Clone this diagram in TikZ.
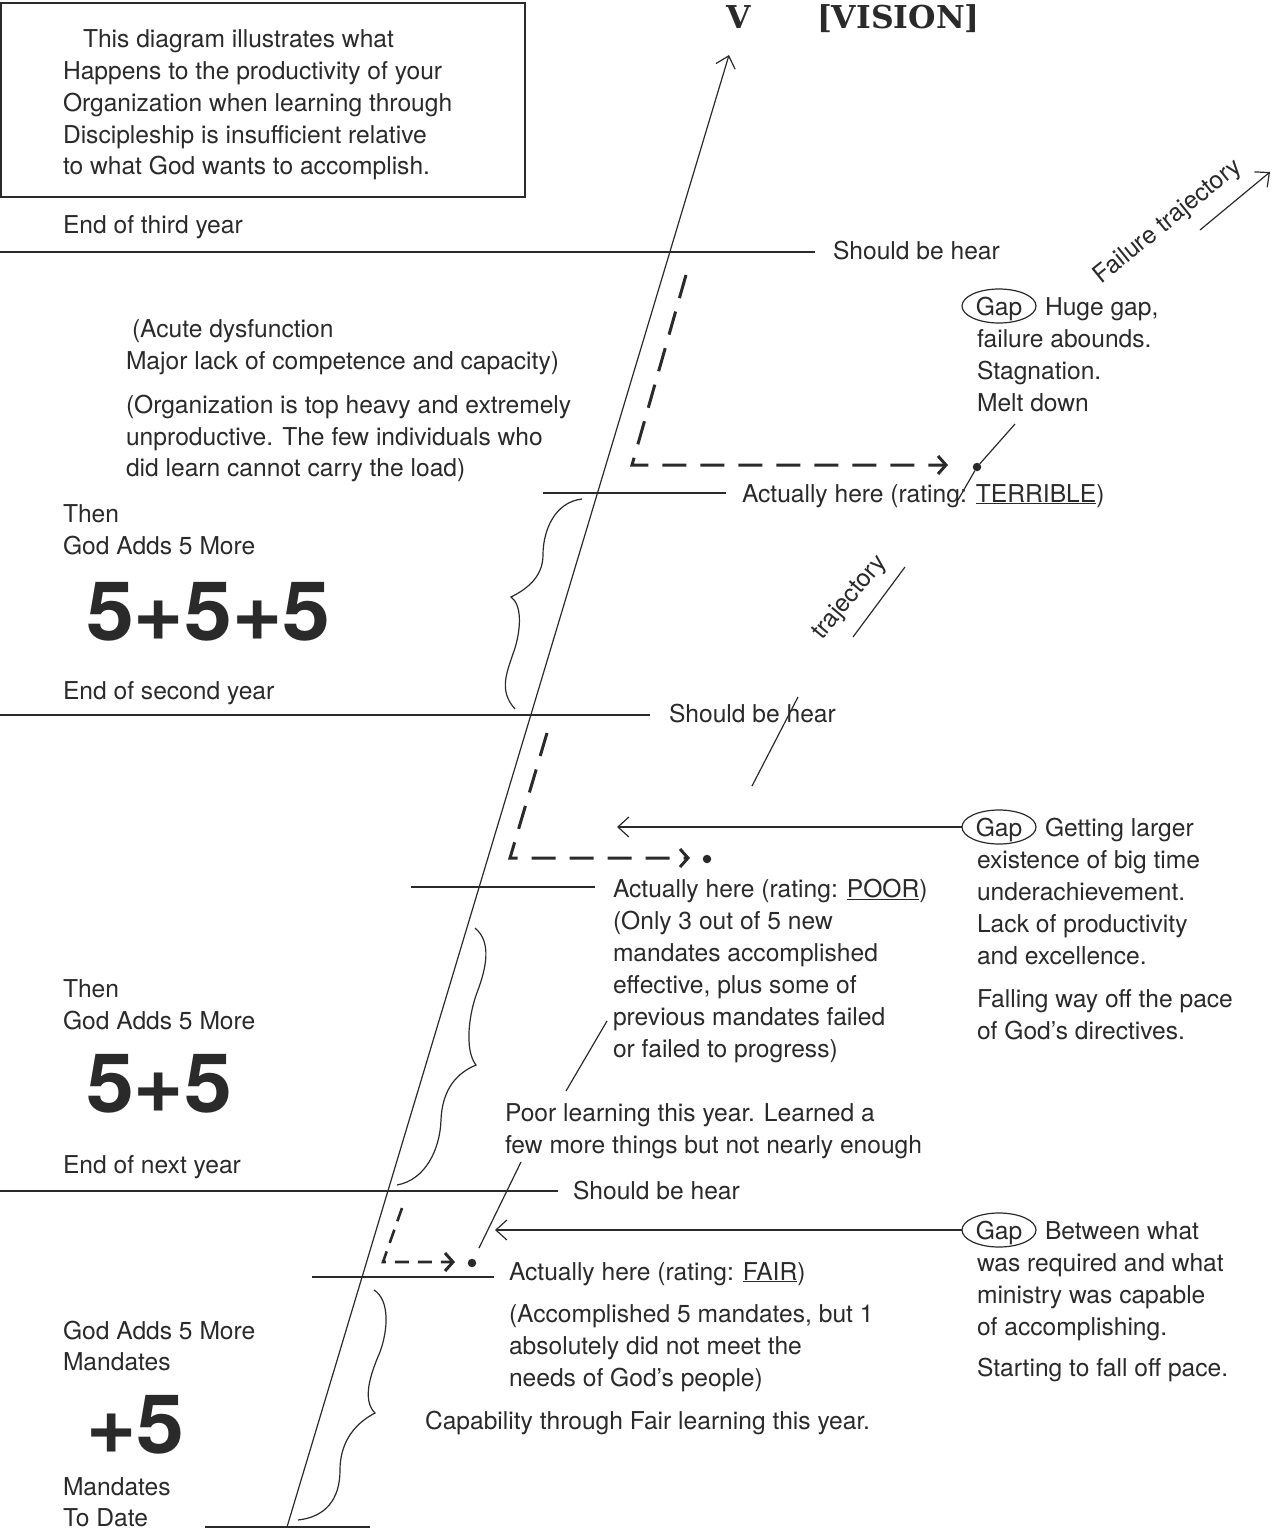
\documentclass[tikz,border=0pt]{standalone}
\usepackage{fontspec}
\setmainfont{TeX Gyre Heros}
\newfontfamily\slabfont{DejaVu Serif}[BoldFont={DejaVu Serif Bold}]
\usetikzlibrary{arrows.meta,shapes.geometric}
\definecolor{ink}{HTML}{2A2A2A}
\begin{document}
\begin{tikzpicture}[x=1pt,y=-1pt,
  every node/.style={inner sep=0pt,outer sep=0pt},
  lbl/.style={anchor=base west,font=\fontsize{24.6}{32}\selectfont,text=ink},
  big/.style={anchor=base west,xscale=1.05,font=\fontsize{82}{82}\selectfont\bfseries,text=ink},
  title/.style={anchor=base west,font=\slabfont\bfseries\fontsize{31.5}{31.5}\selectfont,text=ink},
  rule/.style={draw=ink,line width=1.4pt},
  thin/.style={draw=ink,line width=1.2pt},
  openarrow/.style={thin,-{Straight Barb[length=11pt,width=20pt,line width=1.2pt]}},
  track/.style={draw=ink,line width=3pt,dash pattern=on 24pt off 14pt,
    -{Straight Barb[length=8pt,width=18pt,line width=3pt]}},
  smalltrack/.style={track,line width=2.6pt,dash pattern=on 14pt off 9pt},
  gapring/.style={ellipse,minimum width=74pt,minimum height=36pt,
    text height=18pt,text depth=0pt,font=\fontsize{24.6}{32}\selectfont,text=ink},
  ring/.style={draw=ink,line width=1.2pt},
  spot/.style={circle,fill=ink,minimum size=8.5pt},
  brace/.style={draw=ink,line width=1.2pt}
]
\useasboundingbox (0,0) rectangle (1277,1535);

% introduction frame
\draw[rule] (1,3) rectangle (525,197);
\node[lbl] (intro1) at (83,47)  {This diagram illustrates what};
\node[lbl] (intro2) at (63,79)  {Happens to the productivity of your};
\node[lbl] (intro3) at (63,111) {Organization when learning through};
\node[lbl] (intro4) at (63,143) {Discipleship is insufficient relative};
\node[lbl] (intro5) at (63,174) {to what God wants to accomplish.};

% title above the growth axis
\node[title] (vmark)  at (726,28) {V};
\node[title] (vision) at (817,28) {[VISION]};

% growth axis
\coordinate (axbase) at (287,1527);
\coordinate (axtop)  at (729,55);
\draw[openarrow] (axbase) -- (axtop);

% year levels
\draw[rule] (0,252) -- (815,252);
\draw[rule] (543,493) -- (726,493);
\draw[rule] (0,715) -- (650,715);
\draw[rule] (411,887) -- (595,887);
\draw[rule] (0,1191) -- (558,1191);
\draw[rule] (312,1277) -- (494,1277);
\draw[rule] (205,1527) -- (370,1527);

% ---- third year ----
\node[lbl] (end3)    at (63,233)  {End of third year};
\node[lbl] (should3) at (833,259) {Should be hear};
\node[lbl] (acute1)  at (132,337) {(Acute dysfunction};
\node[lbl] (acute2)  at (126,369) {Major lack of competence and capacity)};
\node[lbl] (org1)    at (126,413) {(Organization is top heavy and extremely};
\node[lbl] (org2)    at (126,445) {unproductive. The few individuals who};
\node[lbl] (org3)    at (126,476) {did learn cannot carry the load)};
\node[lbl] (act3)    at (742,502) {Actually here (rating: \underline{TERRIBLE})};

\node[gapring] (gap3) at (999,306) {Gap};
\draw[ring] (gap3.center) ellipse [x radius=37, y radius=17];
\node[lbl] (gap3a) at (1045,315) {Huge gap,};
\node[lbl] (gap3b) at (977,347)  {failure abounds.};
\node[lbl] (gap3c) at (977,379)  {Stagnation.};
\node[lbl] (gap3d) at (977,411)  {Melt down};

\coordinate (tr3top) at (686,275);
\coordinate (tr3cor) at (632,465);
\coordinate (tr3end) at (948,465);
\draw[track] (tr3top) -- (tr3cor) -- (tr3end);
\node[spot] (spot3) at (977,467) {};
\coordinate (p3a) at (1015,424);
\coordinate (p3b) at (958,500);
\draw[thin] (p3a) -- (spot3) -- (p3b);

\node[lbl,anchor=center,rotate=39] (failtxt) at (1168,222) {Failure trajectory};
\coordinate (fa) at (1200,230);
\coordinate (fb) at (1270,172);
\draw[openarrow] (fa) -- (fb);

\node[lbl] (then3) at (63,522) {Then};
\node[lbl] (adds3) at (63,554) {God Adds 5 More};
\node[big] (sum3)  at (86,640) {5+5+5};
\node[lbl] (end2)  at (63,699) {End of second year};

\draw[brace] (582,499) .. controls (555,502) and (543,530) .. (543,555)
  .. controls (543,578) and (525,590) .. (511,597)
  .. controls (522,605) and (521,628) .. (515,648)
  .. controls (507,672) and (498,690) .. (515,709);

\node[lbl,anchor=center,rotate=50] (trajtxt) at (850,598) {trajectory};
\coordinate (ta) at (853,637);
\coordinate (tb) at (905,567);
\draw[thin] (ta) -- (tb);

% ---- second year ----
\node[lbl] (should2) at (669,722) {Should be hear};
\coordinate (p2a) at (798,697);
\coordinate (p2b) at (752,786);
\draw[thin] (p2a) -- (p2b);

\coordinate (tr2top) at (547,733);
\coordinate (tr2cor) at (510,858);
\coordinate (tr2end) at (690,858);
\draw[track] (tr2top) -- (tr2cor) -- (tr2end);
\node[spot] (spot2) at (707,859) {};

\node[gapring] (gap2) at (999,827) {Gap};
\draw[ring] (gap2.center) ellipse [x radius=37, y radius=17];
\coordinate (gap2tip) at (617,827);
\draw[openarrow] (gap2) -- (gap2tip);
\node[lbl] (gap2a) at (1045,836) {Getting larger};
\node[lbl] (gap2b) at (977,868)  {existence of big time};
\node[lbl] (gap2c) at (977,900)  {underachievement.};
\node[lbl] (gap2d) at (977,932)  {Lack of productivity};
\node[lbl] (gap2e) at (977,964)  {and excellence.};
\node[lbl] (gap2f) at (977,1007) {Falling way off the pace};
\node[lbl] (gap2g) at (977,1039) {of God’s directives.};

\node[lbl] (act2a) at (613,897)  {Actually here (rating: \underline{POOR})};
\node[lbl] (act2b) at (613,929)  {(Only 3 out of 5 new};
\node[lbl] (act2c) at (613,961)  {mandates accomplished};
\node[lbl] (act2d) at (613,993)  {effective, plus some of};
\node[lbl] (act2e) at (613,1025) {previous mandates failed};
\node[lbl] (act2f) at (613,1057) {or failed to progress)};

\coordinate (p2c) at (607,1021);
\coordinate (p2d) at (566,1091);
\draw[thin] (p2c) -- (p2d);

\node[lbl] (poor1) at (505,1121) {Poor learning this year. Learned a};
\node[lbl] (poor2) at (505,1153) {few more things but not nearly enough};

\node[lbl] (then2) at (63,997)  {Then};
\node[lbl] (adds2) at (63,1029) {God Adds 5 More};
\node[big] (sum2)  at (86,1112) {5+5};
\node[lbl] (end1)  at (63,1173) {End of next year};

\draw[brace] (475,928) .. controls (492,942) and (486,968) .. (478,990)
  .. controls (469,1012) and (464,1050) .. (476,1065)
  .. controls (452,1075) and (442,1095) .. (441,1120)
  .. controls (440,1150) and (425,1180) .. (397,1185);

% ---- first year ----
\node[lbl] (should1) at (573,1199) {Should be hear};
\coordinate (p1a) at (521,1162);
\coordinate (p1b) at (479,1248);
\draw[thin] (p1a) -- (p1b);

\coordinate (tr1top) at (402,1208);
\coordinate (tr1cor) at (383,1262);
\coordinate (tr1end) at (455,1262);
\draw[smalltrack] (tr1top) -- (tr1cor) -- (tr1end);
\node[spot] (spot1) at (472,1263) {};

\node[gapring] (gap1) at (999,1230) {Gap};
\draw[ring] (gap1.center) ellipse [x radius=37, y radius=17];
\coordinate (gap1tip) at (495,1230);
\draw[openarrow] (gap1) -- (gap1tip);
\node[lbl] (gap1a) at (1045,1239) {Between what};
\node[lbl] (gap1b) at (977,1271)  {was required and what};
\node[lbl] (gap1c) at (977,1303)  {ministry was capable};
\node[lbl] (gap1d) at (977,1335)  {of accomplishing.};
\node[lbl] (gap1e) at (977,1376)  {Starting to fall off pace.};

\node[lbl] (act1a) at (509,1280) {Actually here (rating: \underline{FAIR})};
\node[lbl] (act1b) at (509,1322) {(Accomplished 5 mandates, but 1};
\node[lbl] (act1c) at (509,1354) {absolutely did not meet the};
\node[lbl] (act1d) at (509,1386) {needs of God’s people)};
\node[lbl] (fair)  at (425,1429) {Capability through Fair learning this year.};

\node[lbl] (adds1) at (63,1339) {God Adds 5 More};
\node[lbl] (mand1) at (63,1370) {Mandates};
\node[big] (sum1)  at (86,1453) {+5};
\node[lbl] (mand2) at (63,1495) {Mandates};
\node[lbl] (todate) at (63,1526) {To Date};

\draw[brace] (374,1290) .. controls (390,1300) and (388,1330) .. (380,1352)
  .. controls (370,1375) and (362,1400) .. (375,1413)
  .. controls (352,1425) and (340,1445) .. (340,1470)
  .. controls (340,1500) and (325,1517) .. (298,1520);
\end{tikzpicture}
\end{document}
